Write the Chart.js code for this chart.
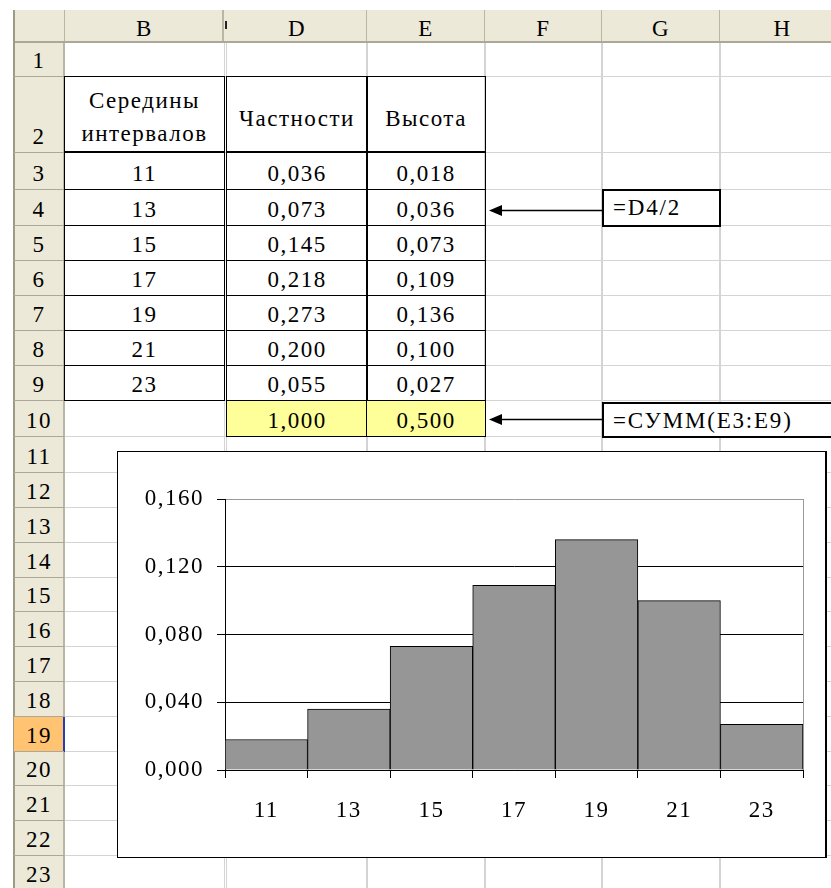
<!DOCTYPE html>
<html>
<head>
<meta charset="utf-8">
<script src="https://cdn.jsdelivr.net/npm/chart.js@4.4.0/dist/chart.umd.min.js"></script>
<style>
  html, body { margin: 0; padding: 0; background: #fff; }
  body { width: 831px; height: 888px; overflow: hidden; position: relative; font-family: 'Liberation Serif', 'Times New Roman', serif; }
  .ln { position: absolute; }
  .cell { position: absolute; box-sizing: border-box; }
  .txt { position: absolute; text-align: center; font-size: 23px; letter-spacing: 1.5px; white-space: nowrap; color: #000; }
  #chartBox { position: absolute; left: 117px; top: 451px; width: 710px; height: 407px; background: #fff; }
  #chartBox canvas { position: absolute; left: 0; top: 0; }
  #chartFrame { position: absolute; inset: 0; border: 1px solid #000; border-right-width: 2px; pointer-events: none; }
  .formula { position: absolute; box-sizing: border-box; border: 2px solid #000; background: #fff; font-size: 23px; letter-spacing: 1.8px; line-height: 33px; padding-left: 9px; white-space: nowrap; overflow: hidden; }
  #arrows { position: absolute; left: 0; top: 0; }
</style>
</head>
<body>
<div id="sheet"></div>
<div id="chartBox">
  <canvas id="hist" width="710" height="407"></canvas>
  <div id="chartFrame"></div>
</div>
<div class="formula" style="left:602px; top:189px; width:119px; height:38px;">=D4/2</div>
<div class="formula" style="left:602px; top:402px; width:260px; height:36px;">=СУММ(E3:E9)</div>
<svg id="arrows" width="831" height="888">
  <line x1="602" y1="210.5" x2="500" y2="210.5" stroke="#000" stroke-width="1.6"/>
  <polygon points="489,210.5 502,205 502,216" fill="#000"/>
  <line x1="602" y1="419.5" x2="500" y2="419.5" stroke="#000" stroke-width="1.6"/>
  <polygon points="489,419.5 502,414 502,425" fill="#000"/>
</svg>
<script>
// interval midpoints, relative frequencies and bar heights (frequency / 2)
const midpoints = [11, 13, 15, 17, 19, 21, 23];
const frequencies = [0.036, 0.073, 0.145, 0.218, 0.273, 0.200, 0.055];
const heights = [0.018, 0.036, 0.073, 0.109, 0.136, 0.100, 0.027];
const totals = [1.000, 0.500];
const yTicks = [0, 0.04, 0.08, 0.12, 0.16];

const fmt = v => v.toFixed(3).replace('.', ',');

// ---- spreadsheet grid ----
const sheet = document.getElementById('sheet');
const cols = [
  { name: 'B', l: 65, r: 224 },
  { name: 'D', l: 227, r: 367 },
  { name: 'E', l: 367, r: 485 },
  { name: 'F', l: 485, r: 602 },
  { name: 'G', l: 602, r: 720 },
  { name: 'H', l: 720, r: 845 }
];
const rowY = [43, 77, 153, 190, 226, 261, 296, 331, 366, 401, 437, 473, 508, 543, 578, 612, 647, 682, 717, 752, 786, 821, 856, 891];

function box(x, y, w, h, css) {
  const d = document.createElement('div');
  d.className = 'ln';
  d.style.cssText = `left:${x}px;top:${y}px;width:${w}px;height:${h}px;${css}`;
  sheet.appendChild(d);
  return d;
}
function text(str, l, r, top, h) {
  const d = document.createElement('div');
  d.className = 'txt';
  d.style.cssText = `left:${l}px;width:${r - l}px;top:${top}px;height:${h}px;line-height:${h}px;`;
  d.textContent = str;
  sheet.appendChild(d);
}

const gridColor = '#d4d4d4';
const hdrLine = '#b9b6a4';

// cell gridlines
cols.forEach(c => {
  box(c.r, 43, 1, 850, `background:${gridColor}`);
  box(c.l - 1, 43, 1, 850, `background:${gridColor}`);
});
rowY.forEach(y => box(65, y - 1, 780, 1, `background:${gridColor}`));

// column header
box(14, 10, 831, 33, 'background:#ece9d8');
box(14, 41, 831, 2, 'background:#aca899');
cols.forEach(c => {
  box(c.r - 1, 10, 1, 31, `background:${hdrLine}`);
  text(c.name, c.l, c.r, 12, 33);
});
box(64, 10, 1, 31, `background:${hdrLine}`);
box(222, 10, 1, 31, `background:${hdrLine}`);
box(225, 21, 2, 8, 'background:#222');

// row header
box(14, 43, 51, 850, 'background:#ece9d8');
box(63, 43, 2, 850, `background:${hdrLine}`);
box(13, 10, 2, 880, 'background:#9d9a86');
box(14, 717, 50, 34, 'background:#ffc372');
box(63, 717, 2, 35, 'background:#1f3fbf');
box(14, 751, 50, 1, 'background:#1f3fbf');
for (let r = 1; r < rowY.length; r++) {
  box(14, rowY[r] - 1, 50, 1, 'background:#aca899');
  text(String(r), 14, 64, rowY[r] - 34, 35);
}

// data table B2:E10
const tableCols = [cols[0], cols[1], cols[2]];
for (let r = 2; r <= 9; r++) {
  tableCols.forEach(c => {
    const bw = r === 2 ? 'border-bottom-width:2px;' : '';
    const d = document.createElement('div');
    d.className = 'cell';
    d.style.cssText = `left:${c.l - 1}px;top:${rowY[r - 1] - 1}px;width:${c.r - c.l + 2}px;height:${rowY[r] - rowY[r - 1] + 1}px;border:1px solid #000;${bw}`;
    sheet.appendChild(d);
  });
}
[cols[1], cols[2]].forEach(c => {
  const d = document.createElement('div');
  d.className = 'cell';
  d.style.cssText = `left:${c.l - 1}px;top:${rowY[9] - 1}px;width:${c.r - c.l + 2}px;height:${rowY[10] - rowY[9] + 1}px;border:1px solid #000;background:#ffff99`;
  sheet.appendChild(d);
});

// header texts
text('Середины', cols[0].l, cols[0].r, 84, 33);
text('интервалов', cols[0].l, cols[0].r, 117, 33);
text('Частности', cols[1].l, cols[1].r, 100, 38);
text('Высота', cols[2].l, cols[2].r, 100, 38);

midpoints.forEach((m, i) => {
  const bottom = rowY[i + 3];
  text(String(m), cols[0].l, cols[0].r, bottom - 34, 35);
  text(fmt(frequencies[i]), cols[1].l, cols[1].r, bottom - 34, 35);
  text(fmt(heights[i]), cols[2].l, cols[2].r, bottom - 34, 35);
});
text(fmt(totals[0]), cols[1].l, cols[1].r, rowY[10] - 34, 35);
text(fmt(totals[1]), cols[2].l, cols[2].r, rowY[10] - 34, 35);

// ---- histogram ----
const serif = "'Liberation Serif', 'Times New Roman', serif";

// wider glyph spacing for the axis labels
const labelSpacing = {
  id: 'labelSpacing',
  beforeDraw: chart => { chart.ctx.letterSpacing = '1.5px'; },
  afterDraw: chart => { chart.ctx.letterSpacing = '0px'; }
};

new Chart(document.getElementById('hist'), {
  type: 'bar',
  data: {
    labels: midpoints.map(String),
    datasets: [{
      data: heights,
      backgroundColor: '#969696',
      borderColor: '#000',
      borderWidth: 1,
      barPercentage: 1,
      categoryPercentage: 1
    }]
  },
  options: {
    responsive: false,
    animation: false,
    layout: { padding: { left: 0, right: 24, top: 48, bottom: 0 } },
    plugins: { legend: { display: false }, tooltip: { enabled: false } },
    scales: {
      x: {
        afterFit: s => { s.height = 88; },
        grid: {
          color: ctx => ctx.type === 'scale' ? '#9a9a9a' : 'transparent',
          tickColor: '#000',
          tickLength: 8,
          lineWidth: 1
        },
        border: { color: '#000', width: 1 },
        ticks: { color: '#000', padding: 19, font: { family: serif, size: 23 } }
      },
      y: {
        min: 0,
        max: 0.16,
        afterFit: s => { s.width = 108; },
        afterBuildTicks: s => { s.ticks = yTicks.map(v => ({ value: v })); },
        grid: {
          color: ctx => (ctx.tick && ctx.tick.value === 0.16) ? '#9a9a9a' : '#000',
          tickColor: '#000',
          tickLength: 8,
          lineWidth: 1
        },
        border: { color: '#000', width: 1 },
        ticks: {
          color: '#000',
          padding: 13,
          font: { family: serif, size: 23 },
          callback: v => fmt(v)
        }
      }
    }
  },
  plugins: [labelSpacing]
});
</script>
</body>
</html>
